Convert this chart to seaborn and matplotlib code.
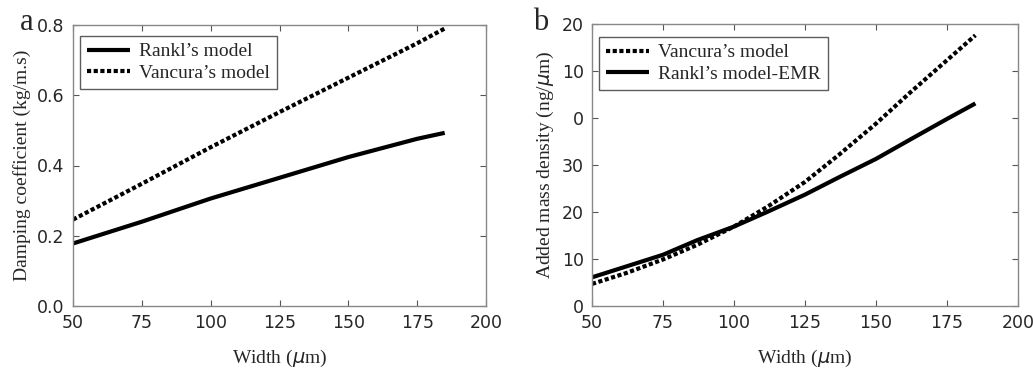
import matplotlib
matplotlib.use("Agg")
import matplotlib.pyplot as plt
import seaborn as sns
import pandas as pd

# Données
width = [50, 75, 100, 125, 150, 175, 185]
rankl_damping = [0.178, 0.240, 0.306, 0.365, 0.424, 0.476, 0.493]
vancura_damping = [0.246, 0.348, 0.452, 0.552, 0.650, 0.748, 0.790]

width_b = [50, 62, 75, 87, 100, 112, 125, 137, 150, 162, 175, 185]
vancura_mass = [4.7, 7.0, 9.9, 13.0, 16.9, 21.2, 26.4, 32.2, 38.8, 45.4, 52.3, 57.6]
rankl_emr_mass = [6.1, 8.4, 10.9, 14.0, 16.9, 20.1, 23.7, 27.4, 31.3, 35.4, 39.8, 43.1]

mass_ticks = [0, 10, 20, 30, 40, 50, 60]
mass_ticklabels = ["0", "10", "20", "30", "0", "10", "20"]

sns.set_style("ticks")
plt.rcParams['font.family'] = ['DejaVu Sans']

serif = ['Liberation Serif', 'DejaVu Serif']

fig = plt.figure(figsize=(10.33, 3.69), dpi=100)
ax1 = fig.add_axes([73 / 1033, 63 / 369, 413 / 1033, 281 / 369])
ax2 = fig.add_axes([592 / 1033, 63 / 369, 426 / 1033, 282 / 369])

df_a = pd.DataFrame({
    'Width': width * 2,
    'Valeur': rankl_damping + vancura_damping,
    'Modèle': ["Rankl’s model"] * len(width) + ["Vancura’s model"] * len(width),
})
df_b = pd.DataFrame({
    'Width': width_b * 2,
    'Valeur': vancura_mass + rankl_emr_mass,
    'Modèle': ["Vancura’s model"] * len(width_b) + ["Rankl’s model-EMR"] * len(width_b),
})

sns.lineplot(data=df_a, x='Width', y='Valeur', hue='Modèle', style='Modèle',
             palette=['black', 'black'], dashes=[(1, 0), (1, 0.6)], lw=3, ax=ax1)
sns.lineplot(data=df_b, x='Width', y='Valeur', hue='Modèle', style='Modèle',
             palette=['black', 'black'], dashes=[(1, 0.6), (1, 0)], lw=3, ax=ax2)

anchors = [(7 / 413, 1 - 11 / 281), (7 / 426, 1 - 13 / 282)]
for ax, anc in zip((ax1, ax2), anchors):
    ax.set_xlim(50, 200)
    ax.set_xticks([50, 75, 100, 125, 150, 175, 200])
    ax.tick_params(direction='in', top=True, right=True, labelsize=12.5,
                   length=4, color='#555555', pad=6)
    for s in ax.spines.values():
        s.set_color('#888888')
        s.set_linewidth(1)
    ax.set_xlabel('Width ($\\mu$m)', family=serif, fontsize=14, labelpad=11)
    leg = ax.legend(loc='upper left', bbox_to_anchor=anc, borderaxespad=0,
                    handlelength=2.2, frameon=True, fancybox=False,
                    handletextpad=0.5, borderpad=0.35, labelspacing=0.2,
                    prop={'family': serif, 'size': 14})
    leg.get_frame().set_edgecolor('#333333')
    leg.get_frame().set_linewidth(1)

ax1.set_ylim(0, 0.8)
ax1.set_yticks([0.0, 0.2, 0.4, 0.6, 0.8])
ax1.set_yticklabels(['0.0', '0.2', '0.4', '0.6', '0.8'])
ax1.set_ylabel('Damping coefficient (kg/m.s)', family=serif, fontsize=14)

ax2.set_ylim(0, 60)
ax2.set_yticks(mass_ticks)
ax2.set_yticklabels(mass_ticklabels)
ax2.set_ylabel('Added mass density (ng/$\\mu$m)', family=serif, fontsize=14)

fig.text(20 / 1033, 1 - 22 / 369, 'a', family=serif, fontsize=22, va='center')
fig.text(533 / 1033, 1 - 22 / 369, 'b', family=serif, fontsize=22, va='center')

fig.savefig('out.png', dpi=100)
